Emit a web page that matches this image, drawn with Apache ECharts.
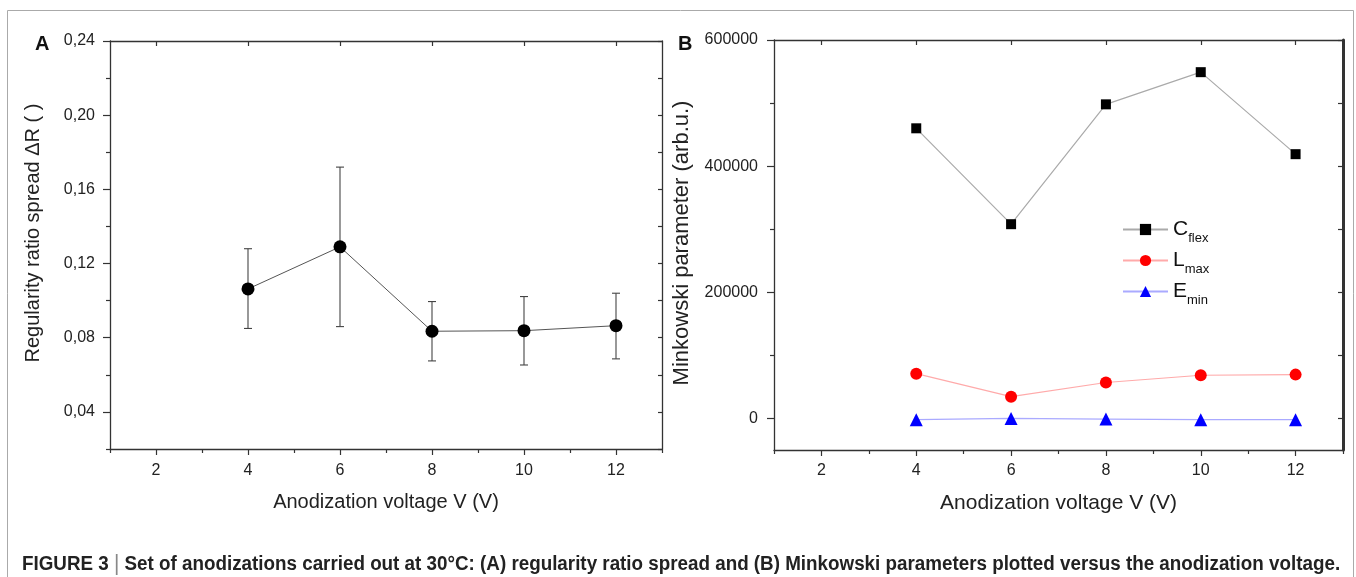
<!DOCTYPE html>
<html>
<head>
<meta charset="utf-8">
<script src="https://cdn.jsdelivr.net/npm/echarts@6/dist/echarts.min.js"></script>
<style>
html, body { margin: 0; padding: 0; background: #fff; }
#main { width: 1356px; height: 577px; }
</style>
</head>
<body>
<div id="main"></div>
<script>
var FONT = '"Liberation Sans", Arial, sans-serif';

// data
var voltage = [4, 6, 8, 10, 12];
var ratioSpread = [0.1063, 0.129, 0.0835, 0.0838, 0.0865];
var ratioLow = [0.085, 0.086, 0.0675, 0.0653, 0.0686];
var ratioHigh = [0.128, 0.172, 0.0995, 0.1022, 0.104];
var cFlex = [460000, 308000, 498000, 549000, 419000];
var lMax = [71000, 34500, 57000, 68500, 69500];
var eMin = [-2000, 0, -1000, -2000, -2000];

// ticks
var xMajor = [2, 4, 6, 8, 10, 12];
var xMinor = [1, 3, 5, 7, 9, 11, 13];
var ratioMajor = [0.04, 0.08, 0.12, 0.16, 0.20, 0.24];
var ratioMinor = [0.02, 0.06, 0.10, 0.14, 0.18, 0.22];
var minkMajor = [0, 200000, 400000, 600000];
var minkMinor = [100000, 300000, 500000];

var caption = 'Set of anodizations carried out at 30\u00b0C: (A) regularity ratio spread and (B) Minkowski parameters plotted versus the anodization voltage.';

function zip(xs, ys) {
	var out = [];
	for (var i = 0; i < xs.length; i++) out.push([xs[i], ys[i]]);
	return out;
}

function axis(o) {
	return {
		type: 'value',
		gridIndex: o.grid,
		position: o.pos,
		min: o.min,
		max: o.max,
		axisLine: { show: o.line !== false, onZero: false, lineStyle: { color: '#333', width: o.lw || 1.3 } },
		axisTick: { show: true, inside: !!o.inside, length: o.len, customValues: o.ticks,
			lineStyle: { color: '#333', width: 1.2 } },
		axisLabel: o.labels ? { show: true, customValues: o.ticks, formatter: o.fmt, margin: o.margin,
			fontSize: 16, color: '#222', fontFamily: FONT } : { show: false },
		splitLine: { show: false },
		name: o.name || '',
		nameLocation: 'middle',
		nameGap: o.gap || 0,
		nameTextStyle: { fontSize: o.nameSize || 20, color: '#222', fontFamily: FONT, padding: o.namePad || 0 }
	};
}

var commaFmt = function (v) { return v.toFixed(2).replace('.', ','); };
var plainFmt = function (v) { return String(Math.round(v)); };

var myChart = echarts.init(document.getElementById('main'));

// caption width: squeeze to fit the figure like a condensed face
var ctx = document.createElement('canvas').getContext('2d');
ctx.font = 'bold 20px ' + FONT;
var capW = ctx.measureText('FIGURE 3 | ' + caption).width;
var capScale = 1318 / capW;

var option = {
	animation: false,
	backgroundColor: '#fff',
	grid: [
		{ left: 110, top: 41, width: 552, height: 408 },
		{ left: 110, top: 41, width: 552, height: 408 },
		{ left: 774, top: 40, width: 569, height: 410 },
		{ left: 774, top: 40, width: 569, height: 410 }
	],
	xAxis: [
		axis({ grid: 0, pos: 'bottom', min: 1, max: 13, ticks: xMajor, len: 6, labels: true, fmt: plainFmt,
			margin: 14, name: 'Anodization voltage V (V)', gap: 43 }),
		axis({ grid: 0, pos: 'top', min: 1, max: 13, ticks: xMajor, len: 5, inside: true }),
		axis({ grid: 1, pos: 'bottom', min: 1, max: 13, ticks: xMinor, len: 4, line: false }),
		axis({ grid: 2, pos: 'bottom', min: 1, max: 13, ticks: xMajor, len: 6, labels: true, fmt: plainFmt,
			margin: 13, name: 'Anodization voltage V (V)', gap: 43, nameSize: 21 }),
		axis({ grid: 2, pos: 'top', min: 1, max: 13, ticks: xMajor, len: 5, inside: true }),
		axis({ grid: 3, pos: 'bottom', min: 1, max: 13, ticks: xMinor, len: 4, line: false })
	],
	yAxis: [
		axis({ grid: 0, pos: 'left', min: 0.02, max: 0.24, ticks: ratioMajor, len: 7, labels: true, fmt: commaFmt,
			margin: 15, name: 'Regularity ratio spread \u0394R ( )', gap: 67, namePad: [0, 0, 0, 24] }),
		axis({ grid: 0, pos: 'right', min: 0.02, max: 0.24, ticks: ratioMajor.concat(ratioMinor), len: 4, inside: true }),
		axis({ grid: 1, pos: 'left', min: 0.02, max: 0.24, ticks: ratioMinor, len: 4, line: false }),
		axis({ grid: 2, pos: 'left', min: -50000, max: 600000, ticks: minkMajor, len: 7, labels: true, fmt: plainFmt,
			margin: 16, name: 'Minkowski parameter (arb.u.)', gap: 81, nameSize: 22, namePad: [0, 0, 0, 4] }),
		axis({ grid: 2, pos: 'right', min: -50000, max: 600000, ticks: minkMajor.concat(minkMinor), len: 5,
			inside: true, lw: 3 }),
		axis({ grid: 3, pos: 'left', min: -50000, max: 600000, ticks: minkMinor, len: 4, line: false })
	],
	legend: {
		orient: 'vertical',
		left: 1117,
		top: 209,
		itemWidth: 45,
		itemHeight: 14,
		itemGap: 0,
		data: ['Cflex', 'Lmax', 'Emin'],
		formatter: function (name) { return '{m|' + name.charAt(0) + '}{s|' + name.slice(1) + '}'; },
		textStyle: {
			fontFamily: FONT,
			color: '#111',
			rich: {
				m: { fontSize: 21, fontFamily: FONT, color: '#111', lineHeight: 24 },
				s: { fontSize: 13, fontFamily: FONT, color: '#111', lineHeight: 13, padding: [18, 0, 0, 0] }
			}
		}
	},
	series: [
		{
			type: 'custom',
			xAxisIndex: 0,
			yAxisIndex: 0,
			z: 1,
			data: voltage.map(function (v, i) { return [v, ratioLow[i], ratioHigh[i]]; }),
			encode: { x: 0, y: [1, 2] },
			renderItem: function (params, api) {
				var x = api.value(0);
				var lo = api.coord([x, api.value(1)]);
				var hi = api.coord([x, api.value(2)]);
				var w = 4;
				var st = { stroke: '#444', lineWidth: 1.1 };
				return {
					type: 'group',
					children: [
						{ type: 'line', shape: { x1: lo[0], y1: lo[1], x2: hi[0], y2: hi[1] }, style: st },
						{ type: 'line', shape: { x1: lo[0] - w, y1: lo[1], x2: lo[0] + w, y2: lo[1] }, style: st },
						{ type: 'line', shape: { x1: hi[0] - w, y1: hi[1], x2: hi[0] + w, y2: hi[1] }, style: st }
					]
				};
			}
		},
		{
			name: 'ratio',
			type: 'line',
			xAxisIndex: 0,
			yAxisIndex: 0,
			z: 3,
			data: zip(voltage, ratioSpread),
			symbol: 'circle',
			symbolSize: 13,
			itemStyle: { color: '#000' },
			lineStyle: { color: '#555', width: 1 }
		},
		{
			name: 'Cflex',
			type: 'line',
			xAxisIndex: 3,
			yAxisIndex: 3,
			data: zip(voltage, cFlex),
			symbol: 'rect',
			symbolSize: 10,
			itemStyle: { color: '#000' },
			lineStyle: { color: '#aaa', width: 1.2 }
		},
		{
			name: 'Lmax',
			type: 'line',
			xAxisIndex: 3,
			yAxisIndex: 3,
			data: zip(voltage, lMax),
			symbol: 'circle',
			symbolSize: 12,
			itemStyle: { color: '#ff0000' },
			lineStyle: { color: '#ffaaaa', width: 1.2 }
		},
		{
			name: 'Emin',
			type: 'line',
			xAxisIndex: 3,
			yAxisIndex: 3,
			data: zip(voltage, eMin),
			symbol: 'triangle',
			symbolSize: 13,
			itemStyle: { color: '#0000ff' },
			lineStyle: { color: '#aaaaff', width: 1.2 }
		}
	],
	graphic: [
		{ type: 'line', shape: { x1: 7.5, y1: 10.5, x2: 1353.5, y2: 10.5 }, style: { stroke: '#aaa', lineWidth: 1 } },
		{ type: 'line', shape: { x1: 7.5, y1: 10.5, x2: 7.5, y2: 577 }, style: { stroke: '#aaa', lineWidth: 1 } },
		{ type: 'line', shape: { x1: 1353.5, y1: 10.5, x2: 1353.5, y2: 577 }, style: { stroke: '#aaa', lineWidth: 1 } },
		{ type: 'text', left: 35, top: 34, style: { text: 'A', font: 'bold 20px ' + FONT, fill: '#111' } },
		{ type: 'text', left: 678, top: 34, style: { text: 'B', font: 'bold 20px ' + FONT, fill: '#111' } },
		{
			type: 'text', x: 22, y: 553, scaleX: capScale,
			style: {
				text: '{b|FIGURE 3 }{bar||}{b| ' + caption + '}',
				rich: {
					b: { font: 'bold 20px ' + FONT, fill: '#222' },
					bar: { font: '22px ' + FONT, fill: '#888' }
				}
			}
		}
	]
};

myChart.setOption(option);
</script>
</body>
</html>
